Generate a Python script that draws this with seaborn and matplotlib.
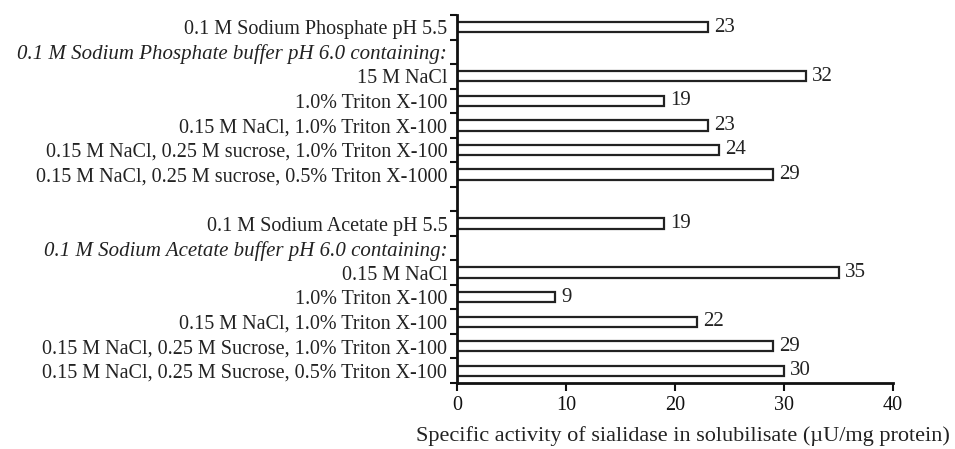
import numpy as np
import pandas as pd
import matplotlib
matplotlib.use("Agg")
import matplotlib.pyplot as plt
import seaborn as sns
from matplotlib.ticker import FixedLocator

labels = [
    "0.1 M Sodium Phosphate pH 5.5",
    "0.1 M Sodium Phosphate buffer pH 6.0 containing:",
    "15 M NaCl",
    "1.0% Triton X-100",
    "0.15 M NaCl, 1.0% Triton X-100",
    "0.15 M NaCl, 0.25 M sucrose, 1.0% Triton X-100",
    "0.15 M NaCl, 0.25 M sucrose, 0.5% Triton X-1000",
    "",
    "0.1 M Sodium Acetate pH 5.5",
    "0.1 M Sodium Acetate buffer pH 6.0 containing:",
    "0.15 M NaCl",
    "1.0% Triton X-100",
    "0.15 M NaCl, 1.0% Triton X-100",
    "0.15 M NaCl, 0.25 M Sucrose, 1.0% Triton X-100",
    "0.15 M NaCl, 0.25 M Sucrose, 0.5% Triton X-100",
]
values = [23, np.nan, 32, 19, 23, 24, 29, np.nan, 19, np.nan, 35, 9, 22, 29, 30]
header_rows = [1, 9]
xticks = [0, 10, 20, 30, 40]
xlabel = "Specific activity of sialidase in solubilisate (\u00b5U/mg protein)"

row_ids = [f"r{i}" for i in range(len(labels))]
df = pd.DataFrame({"row": row_ids, "value": values}).dropna()

sns.set_style("ticks")
plt.rcParams["font.family"] = ["Liberation Serif", "DejaVu Serif"]

fig = plt.figure(figsize=(9.55, 4.49), dpi=100)
ax = fig.add_axes([457 / 955, 1 - 383 / 449, (893 - 457) / 955, (383 - 15) / 449])

sns.barplot(data=df, x="value", y="row", order=row_ids, orient="h",
            color="white", edgecolor="#222222", linewidth=1.6, width=0.42,
            ax=ax, saturation=1)

ax.set_xlim(0, 40)
ax.set_ylim(len(labels) - 0.5, -0.5)
ax.set_xticks(xticks)
ax.set_xticklabels([str(t) for t in xticks], fontsize=14.5)
ax.tick_params(axis="x", direction="out", length=6, width=1.5, colors="#111111", pad=3)

ax.set_yticks(range(len(labels)))
ax.set_yticklabels(labels, fontsize=14.5)
ax.tick_params(axis="y", which="major", length=0, pad=7, colors="#222222")
ax.yaxis.set_minor_locator(FixedLocator(np.arange(-0.5, len(labels), 1.0)))
ax.tick_params(axis="y", which="minor", direction="out", length=5, width=1.5, color="#111111")
for i, t in enumerate(ax.get_yticklabels()):
    if i in header_rows:
        t.set_fontstyle("italic")
        t.set_fontsize(15)

for c in ax.containers:
    ax.bar_label(c, fmt="%d", padding=4.5, fontsize=15, color="#222222")

ax.set_xlabel(xlabel, fontsize=16, color="#222222")
ax.xaxis.set_label_coords(0.518, -0.118)
ax.set_ylabel("")

sns.despine(ax=ax, top=True, right=True)
for s in ["left", "bottom"]:
    ax.spines[s].set_linewidth(2)
    ax.spines[s].set_color("#111111")

fig.savefig("out.png", dpi=100)
